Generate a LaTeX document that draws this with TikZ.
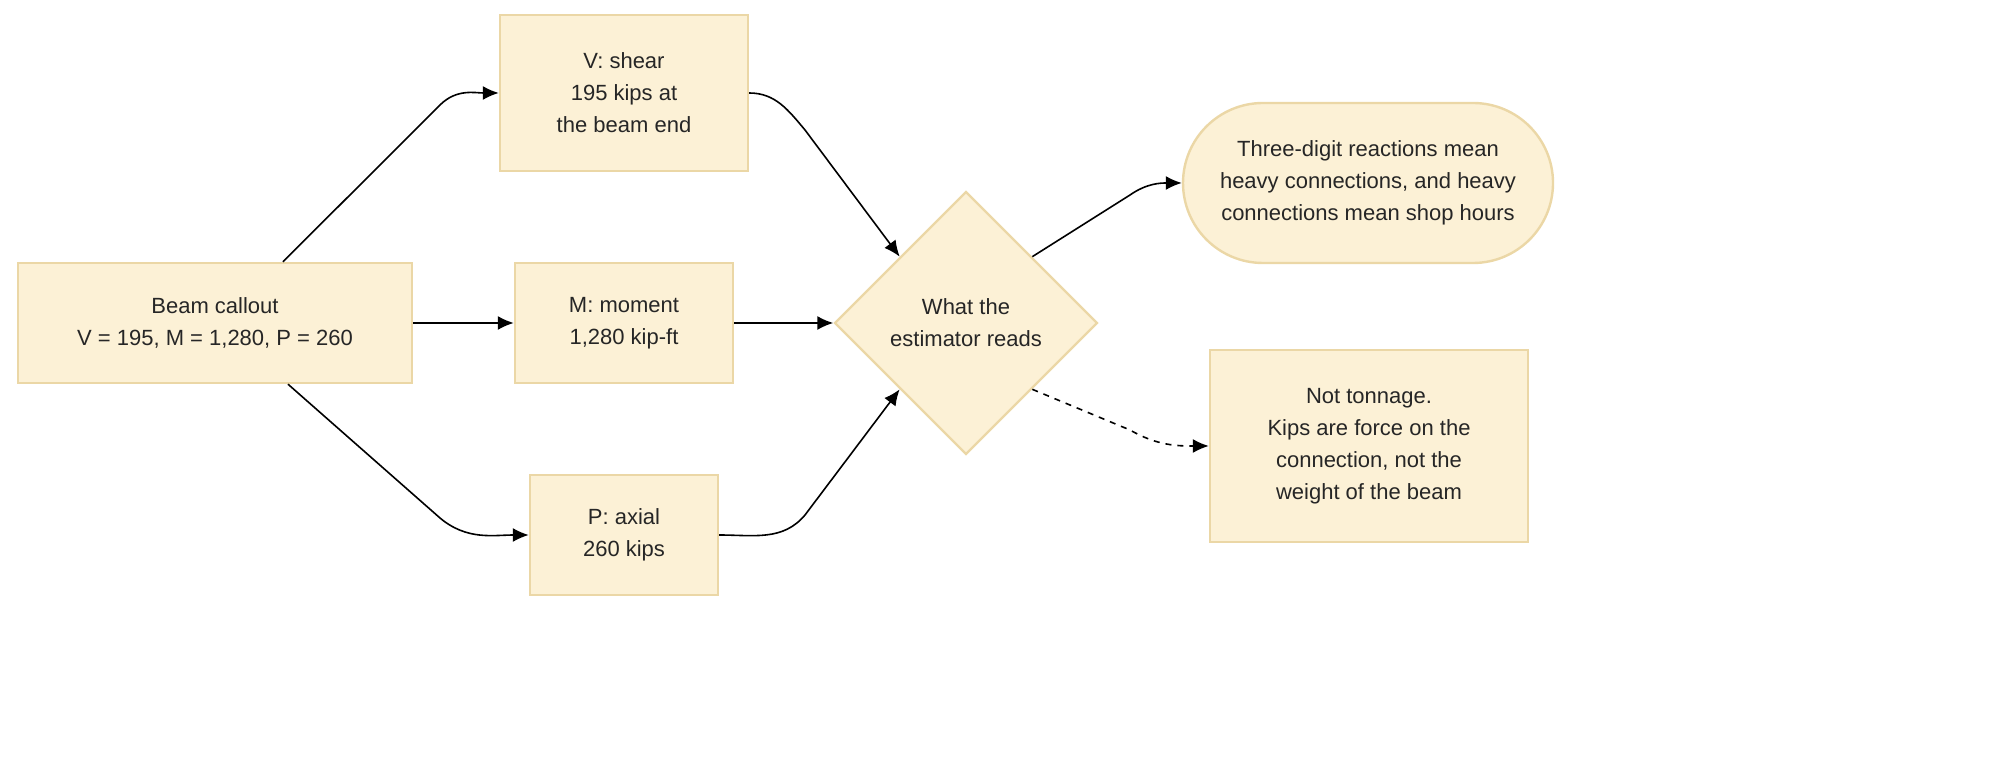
\documentclass[tikz,border=0pt]{standalone}
\usepackage{fontspec}
\setmainfont{Liberation Sans}
\usetikzlibrary{arrows.meta,calc,positioning,shapes.geometric}
\definecolor{NoteFill}{HTML}{FCF1D6}
\definecolor{NoteEdge}{HTML}{EBD7A6}
\tikzstyle{box}=[draw=NoteEdge,fill=NoteFill,line width=1.2pt,rectangle,align=center,font=\fontsize{11}{16}\selectfont,text=black!85]
\tikzstyle{decide}=[box,diamond,aspect=1,minimum width=131.5pt,minimum height=131.5pt,inner sep=0pt]
\tikzstyle{pill}=[box,rounded corners=40pt]
\tikzset{
    >={Latex[length=8pt,width=7pt]},
    link/.style={->,line width=0.8pt,black}
}
\begin{document}
\begin{tikzpicture}[x=0.5pt,y=-0.5pt]
    \useasboundingbox (0,0) rectangle (2000,779);
    % Inputs
    \node[box,minimum width=197pt,minimum height=60pt] (callout) at (215,323) {Beam callout\\V = 195, M = 1,280, P = 260};
    \node[box,minimum width=124pt,minimum height=78pt] (shear) at (624,93) {V: shear\\195 kips at\\the beam end};
    \node[box,minimum width=109pt,minimum height=60pt] (moment) at (624,323) {M: moment\\1,280 kip-ft};
    \node[box,minimum width=94pt,minimum height=60pt] (axial) at (624,535) {P: axial\\260 kips};
    % Reading
    \node[decide] (reads) at (966,323) {What the\\estimator reads};
    \node[pill,minimum width=185pt,minimum height=80pt] (shop) at (1368,183) {Three-digit reactions mean\\heavy connections, and heavy\\connections mean shop hours};
    \node[box,minimum width=159pt,minimum height=96pt] (tonnage) at (1369,446) {Not tonnage.\\Kips are force on the\\connection, not the\\weight of the beam};

    \draw[link] ($(callout.north)+(68,0)$) -- (440,105) to[out=45,in=180] (shear.west);
    \draw[link] (callout.east) -- (moment.west);
    \draw[link] ($(callout.south)+(73,0)$) -- (440,518) to[out=-40,in=180] (axial.west);
    \draw[link] (shear.east) to[out=0,in=130] (805,130) -- (reads.north west);
    \draw[link] (moment.east) -- (reads.west);
    \draw[link] (axial.east) to[out=0,in=-130] (805,515) -- (reads.south west);
    \draw[link] (reads.north east) -- (1130,195) to[out=35,in=180] (shop.west);
    \draw[link,dashed] (reads.south east) -- (1130,430) to[out=-30,in=180] (tonnage.west);
\end{tikzpicture}
\end{document}
